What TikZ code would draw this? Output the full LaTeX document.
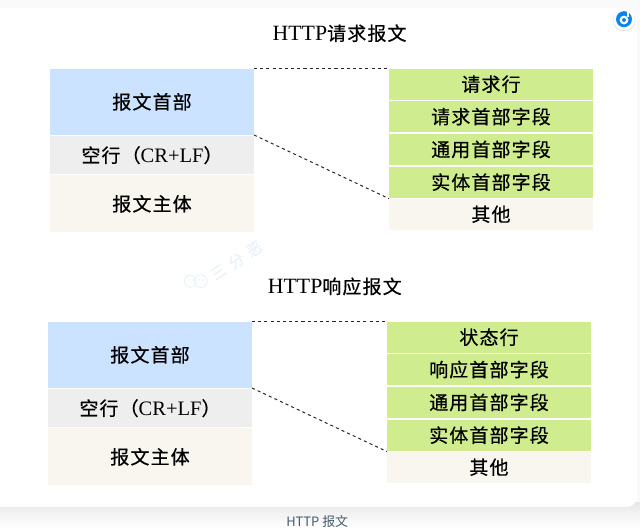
\documentclass[tikz,border=0pt]{standalone}
\usepackage{fontspec}
\setmainfont{Liberation Serif}
\setsansfont{Liberation Sans}
\newfontfamily\zhfont[LetterSpace=6,FakeBold=0.5]{Noto Sans CJK SC}
\newfontfamily\markfont{Noto Sans CJK SC}
\newcommand{\zh}[1]{{\zhfont\fontsize{13.5}{16}\selectfont #1}}
\newcommand{\crlf}{{\fontsize{14.6}{18}\selectfont CR+LF}}
\usetikzlibrary{arrows.meta, positioning}
\definecolor{headblue}{HTML}{CCE3FF}
\definecolor{blankgray}{HTML}{EEEEEE}
\definecolor{bodycream}{HTML}{F8F6EE}
\definecolor{fieldgreen}{HTML}{CFEC8E}
\definecolor{markblue}{HTML}{E2EFFC}
\definecolor{logoblue}{HTML}{0A84F0}
\definecolor{capslate}{HTML}{4A5A70}
\begin{document}
\begin{tikzpicture}[
        font=\fontsize{15.5}{18}\selectfont,
        every node/.style={align=center, outer sep=0pt},
        block/.style={rectangle, minimum width=5.1cm, inner sep=0pt, anchor=north},
        headblock/.style={block, fill=headblue, minimum height=1.66cm},
        blankblock/.style={block, fill=blankgray, minimum height=0.95cm},
        bodyblock/.style={block, fill=bodycream, minimum height=1.42cm},
        fieldrow/.style={block, fill=fieldgreen, minimum height=0.78cm},
        otherrow/.style={block, fill=bodycream, minimum height=0.78cm},
        zoomline/.style={dash pattern=on 2.2pt off 2.2pt, line width=0.7pt, black!85},
        caption/.style={font=\markfont\fontsize{9.2}{11}\selectfont, text=capslate}
    ]
        % --- Fondo y tarjeta ---
        \useasboundingbox (0,0) rectangle (16,-13.2);
        \fill[black!2] (0,0) rectangle (16,-13.2);
        \shade[top color=black!9, bottom color=white] (0,-12.55) rectangle (16,-13.2);
        \fill[white] (-0.5,-0.2) [rounded corners=0.25cm] -- (15.925,-0.2) -- (15.925,-12.67) -- (-0.5,-12.67) -- cycle;

        % --- Marca de agua ---
        \node[rotate=33, text=markblue, font=\markfont\fontsize{11}{13}\selectfont] (markText) at (5.93,-6.53)
            {三\hspace{0.4em}分\hspace{0.4em}恶};
        \draw[markblue, line width=0.5pt] (4.76,-7.03) circle (0.15cm);
        \draw[markblue, line width=0.5pt] (5.02,-7.03) circle (0.16cm);
        \fill[markblue] (4.71,-7.0) circle (0.02cm) (4.82,-7.0) circle (0.02cm) (4.98,-7.0) circle (0.02cm) (5.08,-7.0) circle (0.02cm);

        % --- Logo ---
        \fill[black!8] (15.6,-0.5) circle (0.29cm);
        \fill[white] (15.6,-0.48) circle (0.27cm);
        \fill[logoblue] (15.6,-0.48) circle (0.2cm);
        \fill[white] (15.6,-0.5) circle (0.11cm);
        \fill[logoblue] (15.6,-0.5) circle (0.05cm);
        \fill[white] (15.67,-0.28) rectangle (15.715,-0.42);

        % --- Mensaje de solicitud ---
        \node (reqTitle) at (8.49,-0.83) {HTTP\zh{请求报文}};

        \node[headblock] (reqHead) at (3.8,-1.715) {\raisebox{0.6pt}{\zh{报文首部}}};
        \node[blankblock] (reqBlank) at ([yshift=-1.69cm]reqHead.north) {\zh{空行（}\crlf\zh{）}};
        \node[bodyblock] (reqBody) at ([yshift=-2.67cm]reqHead.north) {\zh{报文主体}};

        \node[fieldrow] (reqLine) at (12.275,-1.715) {\zh{请求行}};
        \node[fieldrow] (reqField) at ([yshift=-0.81cm]reqLine.north) {\zh{请求首部字段}};
        \node[fieldrow] (reqCommon) at ([yshift=-1.63cm]reqLine.north) {\zh{通用首部字段}};
        \node[fieldrow] (reqEntity) at ([yshift=-2.45cm]reqLine.north) {\zh{实体首部字段}};
        \node[otherrow] (reqOther) at ([yshift=-3.25cm]reqLine.north) {\zh{其他}};

        \draw[zoomline] (reqHead.north east) -- (reqLine.north west);
        \draw[zoomline] (reqHead.south east) -- (reqOther.north west);

        % --- Mensaje de respuesta ---
        \node (respTitle) at (8.37,-7.16) {HTTP\zh{响应报文}};

        \node[headblock] (respHead) at (3.75,-8.04) {\zh{报文首部}};
        \node[blankblock] (respBlank) at ([yshift=-1.69cm]respHead.north) {\zh{空行（}\crlf\zh{）}};
        \node[bodyblock] (respBody) at ([yshift=-2.67cm]respHead.north) {\zh{报文主体}};

        \node[fieldrow] (respLine) at (12.225,-8.04) {\zh{状态行}};
        \node[fieldrow] (respField) at ([yshift=-0.81cm]respLine.north) {\zh{响应首部字段}};
        \node[fieldrow] (respCommon) at ([yshift=-1.63cm]respLine.north) {\zh{通用首部字段}};
        \node[fieldrow] (respEntity) at ([yshift=-2.45cm]respLine.north) {\zh{实体首部字段}};
        \node[otherrow] (respOther) at ([yshift=-3.25cm]respLine.north) {\zh{其他}};

        \draw[zoomline] (respHead.north east) -- (respLine.north west);
        \draw[zoomline] (respHead.south east) -- (respOther.north west);

        % --- Pie ---
        \node[caption] (figCaption) at (7.93,-13.03) {HTTP 报文};
    \end{tikzpicture}
\end{document}
